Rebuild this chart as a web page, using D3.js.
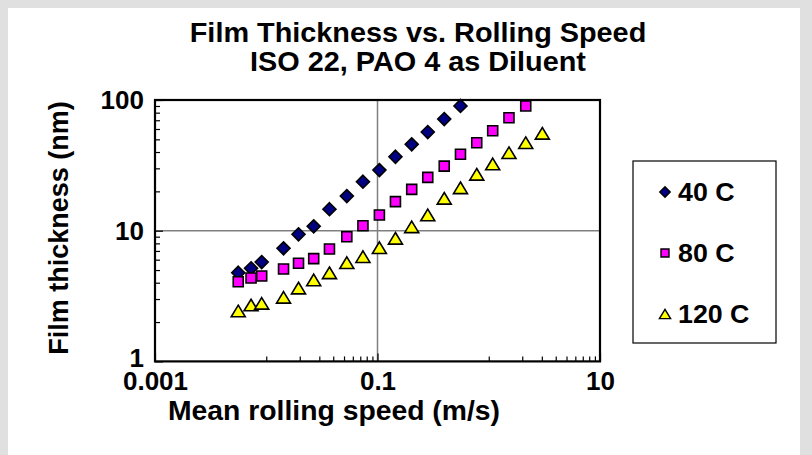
<!DOCTYPE html>
<html><head><meta charset="utf-8">
<script src="https://cdn.jsdelivr.net/npm/d3@7"></script>
<style>body{margin:0;background:#e0e0e0;overflow:hidden}</style>
</head><body>
<svg id="c" width="812" height="455"></svg>
<script>
// ---- data ----
const speeds = [0.0056, 0.0073, 0.0091, 0.0143, 0.0195, 0.0267, 0.037, 0.053, 0.074, 0.104,
                0.145, 0.203, 0.283, 0.398, 0.557, 0.78, 1.085, 1.52, 2.15, 3.03];
const film40 = [4.77, 5.16, 5.76, 7.33, 9.39, 10.8, 14.6, 18.4, 23.7, 29.1, 36.8, 45.8, 56.9, 71.5, 90.0];
const film80 = [4.07, 4.35, 4.50, 5.09, 5.63, 6.11, 7.24, 9.00, 10.9, 13.2, 16.7, 20.7, 25.6, 31.2,
                38.5, 47.1, 58.2, 73.2, 90.0];
const film120 = [2.43, 2.70, 2.78, 3.09, 3.64, 4.20, 4.76, 5.69, 6.33, 7.41, 8.75, 10.7, 13.2, 17.7,
                 21.3, 27.0, 32.4, 39.5, 47.1, 55.6];
const seriesNames = ["40 C", "80 C", "120 C"];
const seriesColors = ["#000080", "#ff00ff", "#ffff00"];
const seriesShapes = ["diamond", "square", "triangle"];
const xMajorTicks = [0.001, 0.1, 10];
const xTickLabels = ["0.001", "0.1", "10"];
const yMajorTicks = [1, 10, 100];
const yTickLabels = ["1", "10", "100"];
const titleLines = ["Film Thickness vs. Rolling Speed", "ISO 22, PAO 4 as Diluent"];
const xTitle = "Mean rolling speed (m/s)";
const yTitle = "Film thickness (nm)";

// ---- layout ----
const FONT = "'Liberation Sans', Arial, Helvetica, sans-serif";
const SX = 1.03;
const L = 155, R = 600, T = 100, B = 361.4;

const svg = d3.select("#c");
svg.append("rect").attr("width", 812).attr("height", 455).attr("fill", "#e0e0e0");
svg.append("rect").attr("x", 8).attr("y", 8).attr("width", 792).attr("height", 447).attr("fill", "#fff");

const x = d3.scaleLog().domain([0.001, 10]).range([L, R]);
const y = d3.scaleLog().domain([1, 100]).range([B, T]);

// minor tick values (Excel style: multiples of each major start)
const xMinor = [];
xMajorTicks.slice(0, -1).forEach(m => { for (let k = 1; k <= 9; k++) xMinor.push(m * 10 * k); });
const yMinor = [];
yMajorTicks.slice(0, -1).forEach(m => { for (let k = 2; k <= 9; k++) yMinor.push(m * k); });

// gridlines
svg.append("line").attr("x1", x(0.1)).attr("x2", x(0.1)).attr("y1", T).attr("y2", B)
  .attr("stroke", "#808080").attr("stroke-width", 1.5);
svg.append("line").attr("x1", L).attr("x2", R).attr("y1", y(10)).attr("y2", y(10))
  .attr("stroke", "#808080").attr("stroke-width", 1.5);

function styleAxis(g) {
  g.select(".domain").remove();
  g.selectAll(".tick line").attr("stroke", "#000").attr("stroke-width", 1.2);
}
// x ticks (inside)
svg.append("g").attr("transform", `translate(0,${B})`)
  .call(d3.axisBottom(x).tickValues(xMinor).tickSize(-5).tickFormat(""))
  .call(styleAxis);
svg.append("g").attr("transform", `translate(0,${B})`)
  .call(d3.axisBottom(x).tickValues(xMajorTicks).tickSize(-8).tickFormat(""))
  .call(styleAxis);
// y ticks (inside)
svg.append("g").attr("transform", `translate(${L},0)`)
  .call(d3.axisLeft(y).tickValues(yMinor).tickSize(-5).tickFormat(""))
  .call(styleAxis);
svg.append("g").attr("transform", `translate(${L},0)`)
  .call(d3.axisLeft(y).tickValues(yMajorTicks).tickSize(-8).tickFormat(""))
  .call(styleAxis);

// tick labels
const xl = svg.append("g").attr("transform", `translate(0,${B})`)
  .call(d3.axisBottom(x).tickValues(xMajorTicks).tickSize(0).tickPadding(10)
        .tickFormat((d, i) => xTickLabels[i]));
xl.select(".domain").remove();
xl.selectAll("text").attr("font-family", FONT).attr("font-weight", "bold").attr("font-size", 26)
  .attr("fill", "#000");

const yl = svg.append("g").attr("transform", `translate(${L},0)`)
  .call(d3.axisLeft(y).tickValues(yMajorTicks).tickSize(0).tickPadding(11)
        .tickFormat((d, i) => yTickLabels[i]));
yl.select(".domain").remove();
yl.selectAll("text").attr("font-family", FONT).attr("font-weight", "bold").attr("font-size", 26)
  .attr("fill", "#000");
// the "1" label sits a touch above its tick in the reference
yl.selectAll("text").filter(d => d === 1).attr("dy", "0.2em");

// plot border
svg.append("rect").attr("x", L).attr("y", T).attr("width", R - L).attr("height", B - T)
  .attr("fill", "none").attr("stroke", "#000").attr("stroke-width", 2.2);

// marker paths
function markerPath(shape, s) {
  if (shape === "diamond") { const r = 6.5 * s; return `M0,${-r}L${r},0L0,${r}L${-r},0Z`; }
  if (shape === "square") { const h = 5 * s; return `M${-h},${-h}H${h}V${h}H${-h}Z`; }
  const w = 7 * s, h = 5.8 * s; return `M0,${-h}L${w},${h}L${-w},${h}Z`;
}

const seriesData = [film40, film80, film120];
seriesData.forEach((vals, si) => {
  svg.append("g").selectAll("path").data(vals.map((v, i) => [speeds[i], v])).join("path")
    .attr("d", markerPath(seriesShapes[si], 1))
    .attr("transform", d => `translate(${x(d[0])},${y(d[1])})`)
    .attr("fill", seriesColors[si]).attr("stroke", "#000").attr("stroke-width", 1.6)
    .attr("stroke-linejoin", "miter");
});

// titles
const tt = svg.append("g").attr("font-family", FONT).attr("font-weight", "bold").attr("font-size", 28)
  .attr("text-anchor", "middle").attr("fill", "#000");
titleLines.forEach((t, i) => {
  tt.append("text").attr("transform", `translate(418,${42 + i * 29}) scale(${SX},1)`).text(t);
});
tt.append("text").attr("transform", `translate(334,420) scale(${SX},1)`).attr("font-size", 27.5).text(xTitle);
svg.append("text").attr("font-family", FONT).attr("font-weight", "bold").attr("font-size", 27)
  .attr("text-anchor", "middle").attr("fill", "#000")
  .attr("transform", `translate(68,228) rotate(-90)`).text(yTitle);

// legend
const lg = svg.append("g");
lg.append("rect").attr("x", 633).attr("y", 161).attr("width", 143).attr("height", 182)
  .attr("fill", "#fff").attr("stroke", "#000").attr("stroke-width", 1.2);
seriesNames.forEach((n, i) => {
  const cy = 192 + i * 61;
  lg.append("path").attr("d", markerPath(seriesShapes[i], 0.8))
    .attr("transform", `translate(665,${cy})`)
    .attr("fill", seriesColors[i]).attr("stroke", "#000").attr("stroke-width", 1.4);
  lg.append("text").attr("transform", `translate(678,${cy + 9}) scale(${SX},1)`)
    .attr("font-family", FONT).attr("font-weight", "bold").attr("font-size", 26).attr("fill", "#000")
    .text(n);
});
</script>
</body></html>
